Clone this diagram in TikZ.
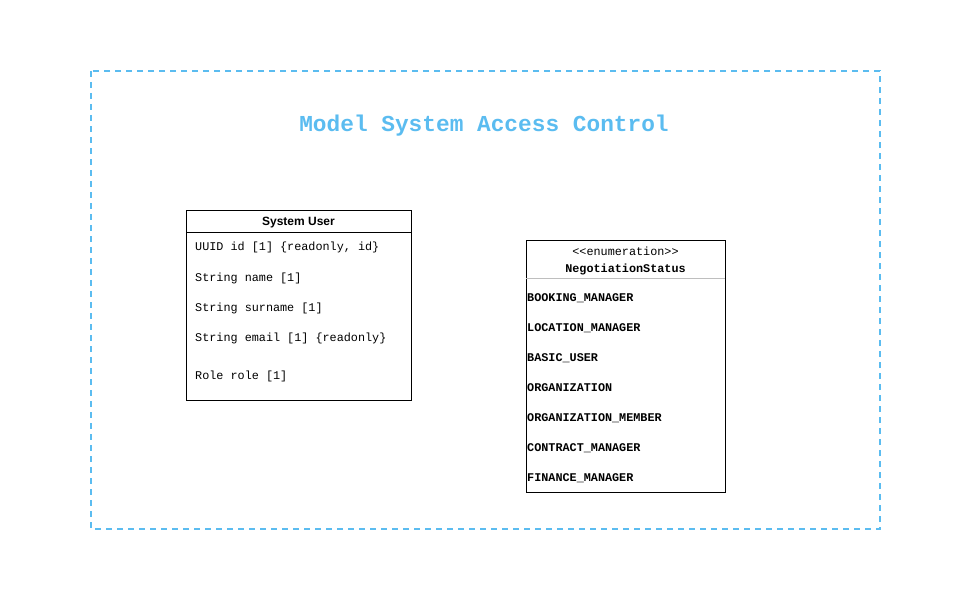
\documentclass[tikz,border=0pt]{standalone}
\usepackage{fontspec}
\setmainfont{Liberation Sans}
\setmonofont{Liberation Mono}
\definecolor{accblue}{RGB}{91,188,240}
\definecolor{sepgray}{RGB}{190,190,190}
\begin{document}
\begin{tikzpicture}[x=1pt,y=-1pt]
\tikzstyle{every node}+=[inner sep=0pt]
\tikzstyle{attr}=[anchor=west,font=\fontsize{11.8}{14}\ttfamily]
\tikzstyle{lit}=[anchor=west,font=\fontsize{11.8}{14}\ttfamily\bfseries]
\useasboundingbox (0,0) rectangle (970,610);
% package frame
\draw [accblue, line width=1.6pt, dash pattern=on 6pt off 5pt] (91,71) rectangle (880,529);
\node (title) at (484,125.5) {\fontsize{22.8}{26}\ttfamily\bfseries\color{accblue}Model System Access Control};
% class System User
\draw [black] (186,210) rectangle (411,400);
\draw [black] (186,232) -- (411,232);
\node (usrhead) at (298.5,222.5) {\fontsize{12}{14}\bfseries System User};
\node [attr] (aid) at (195,247.5) {UUID id [1] \{readonly, id\}};
\node [attr] (aname) at (195,278.5) {String name [1]};
\node [attr] (asurname) at (195,308.5) {String surname [1]};
\node [attr] (aemail) at (195,338.5) {String email [1] \{readonly\}};
\node [attr] (arole) at (195,376.5) {Role role [1]};
% enumeration
\draw [black] (526,240) rectangle (725,492);
\draw [sepgray] (526,278) -- (725,278);
\node (stereo) at (625.5,251) {\fontsize{11.8}{14}\ttfamily <{}<enumeration>{}>};
\node (enumhead) at (625.5,269) {\fontsize{11.8}{14}\ttfamily\bfseries NegotiationStatus};
\node [lit] (lbooking) at (527,298) {BOOKING\_MANAGER};
\node [lit] (llocation) at (527,328) {LOCATION\_MANAGER};
\node [lit] (lbasic) at (527,358) {BASIC\_USER};
\node [lit] (lorg) at (527,388) {ORGANIZATION};
\node [lit] (lorgmem) at (527,418) {ORGANIZATION\_MEMBER};
\node [lit] (lcontract) at (527,448) {CONTRACT\_MANAGER};
\node [lit] (lfinance) at (527,478) {FINANCE\_MANAGER};
\end{tikzpicture}
\end{document}
